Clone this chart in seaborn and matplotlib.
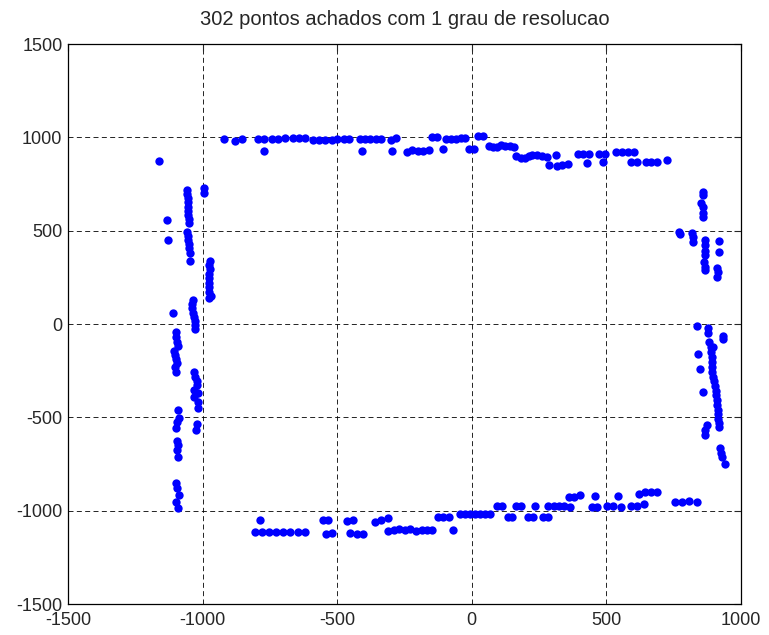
import numpy as np
import pandas as pd
import seaborn as sns
import matplotlib.pyplot as plt

sns.set_style("white")
plt.rcParams['font.family'] = ['Liberation Sans', 'DejaVu Sans']
plt.rcParams['axes.unicode_minus'] = False

# Points, one list pair per wall of the room
top_x = [-1162, -919, -880, -855, -795, -771, -771, -741, -719, -694, -665, -642, -620, -591, -568, -544, -520, -500,
         -475, -456, -417, -397, -378, -357, -337, -300, -282, -409, -295, -242, -221, -199, -180, -160, -147, -130,
         -108, -97, -78, -60, -40, -25, -9, 7, 24, 43, 65, 80, 93, 108, 123, 142, 157, 164, 181, 198, 214,
         222, 241, 260, 280, 313, 287, 316, 336, 356, 396, 414, 435, 429, 472, 495, 488, 534, 557, 581, 604,
         591, 612, 646, 666, 687, 724]
top_y = [875, 989, 980, 990, 990, 990, 928, 990, 990, 997, 995, 995, 995, 985, 985, 985, 988, 990,
         992, 990, 990, 990, 990, 990, 990, 985, 997, 928, 928, 922, 930, 928, 925, 932, 1000, 1000,
         935, 990, 990, 992, 997, 997, 935, 935, 1009, 1009, 955, 948, 950, 958, 952, 952, 950, 900, 890, 892, 900,
         905, 908, 900, 893, 905, 852, 848, 850, 858, 911, 911, 911, 860, 911, 911, 866, 920, 920, 920, 920,
         866, 866, 870, 870, 870, 876]

left_x = [-1059, -1058, -1055, -1056, -1055, -1055, -1053, -1052, -1050, -1133, -1127,
          -1059, -1055, -1053, -1052, -1050, -1048, -1046, -995, -995,
          -974, -976, -974, -976, -978, -977, -976, -975, -970, -976,
          -1037, -1041, -1039, -1034, -1031, -1030, -1030, -1030, -1111,
          -1100, -1099, -1094, -1093, -1105, -1103, -1099, -1094, -1104, -1099,
          -1031, -1027, -1022, -1020, -1031, -1018, -1032, -1018, -1018, -1093,
          -1089, -1094, -1100, -1020, -1025, -1094, -1093, -1094, -1093,
          -1100, -1094, -1089, -1100, -1093]
left_y = [718, 696, 673, 652, 629, 607, 584, 561, 539, 557, 452,
          495, 473, 450, 429, 406, 382, 339, 727, 703,
          339, 316, 293, 268, 245, 221, 197, 173, 150, 138,
          129, 105, 84, 60, 39, 18, -5, -28, 57,
          -41, -68, -95, -118, -143, -166, -189, -211, -232, -256,
          -259, -282, -305, -328, -353, -371, -393, -416, -452, -461,
          -502, -527, -559, -536, -568, -625, -648, -675, -714,
          -853, -880, -916, -952, -987]

right_x = [858, 860, 853, 857, 858, 860, 770, 773, 818, 820, 820,
           866, 866, 866, 868, 862, 866, 868, 918, 918, 912, 916, 912,
           835, 876, 879, 934, 934,
           882, 887, 895, 888, 891, 893, 891, 893, 897, 900, 903, 906, 907, 910, 912, 913, 916, 916, 918, 917,
           841, 848, 858, 872, 868, 865, 922, 926, 929, 940]
right_y = [709, 691, 647, 628, 596, 575, 495, 480, 489, 468, 441,
           450, 423, 393, 370, 334, 307, 289, 445, 384, 298, 280, 253,
           -8, -23, -50, -63, -82,
           -95, -122, -125, -152, -178, -205, -229, -256, -282, -304, -330, -357, -380, -407, -434, -461, -482, -509,
           -532, -553,
           -161, -241, -363, -541, -568, -595, -666, -689, -714, -750]

bottom_x = [-787, -805, -781, -753, -727, -703, -675, -647, -620, -554, -533, -542, -520,
            -463, -440, -452, -428, -403, -360, -337, -312, -310, -289, -269, -248, -230, -207,
            -186, -167, -149, -69, -125, -106, -85, -44, -25, -7, 12, 30, 49, 68,
            95, 113, 133, 148, 164, 183, 235, 210, 226, 266, 282, 284, 305, 324, 342, 365, 362, 381, 402,
            458, 448, 466, 501, 523, 553, 542, 591, 615, 640, 621, 643, 666, 687, 755, 780, 807, 835]
bottom_y = [-1050, -1116, -1116, -1116, -1116, -1116, -1116, -1116, -1116, -1050, -1050, -1125, -1118,
            -1055, -1050, -1120, -1125, -1125, -1059, -1050, -1038, -1110, -1105, -1100, -1105, -1100, -1108,
            -1104, -1104, -1104, -1104, -1032, -1032, -1032, -1020, -1020, -1020, -1020, -1020, -1020, -1020,
            -973, -973, -1032, -1032, -973, -973, -973, -1032, -1032, -1032, -1032, -973, -973, -973, -973, -979,
            -925, -925, -915,
            -920, -982, -982, -973, -973, -982, -920, -973, -973, -964, -911, -902, -902, -902, -955, -955, -946, -955]

xticks = [-1500, -1000, -500, 0, 500, 1000]
yticks = [-1500, -1000, -500, 0, 500, 1000, 1500]

df = pd.DataFrame({'x': top_x + left_x + right_x + bottom_x,
                   'y': top_y + left_y + right_y + bottom_y})

fig = plt.figure(figsize=(7.69, 6.35), dpi=100)
ax = fig.add_axes([0.0884, 0.0488, 0.8752, 0.8819])

sns.scatterplot(data=df, x='x', y='y', ax=ax, color='#0000FF', s=36, linewidth=0, zorder=3)

# Matlab style box with dashed grid
ax.set_xlim(-1500, 1000)
ax.set_ylim(-1500, 1500)
ax.set_xticks(xticks)
ax.set_yticks(yticks)
ax.grid(True, color='black', lw=0.6, ls=(0, (6, 4)))
ax.set_axisbelow(True)
ax.tick_params(direction='in', length=5, width=0.8, top=True, right=True, labelsize=13)
ax.tick_params(axis='x', pad=6)
ax.tick_params(axis='y', pad=4)
for spine in ax.spines.values():
    spine.set_lw(0.9)
    spine.set_color('black')
ax.set_xlabel('')
ax.set_ylabel('')

ax.set_title('302 pontos achados com 1 grau de resolucao', fontsize=14.5, pad=14)

fig.savefig('out.png', dpi=100)
